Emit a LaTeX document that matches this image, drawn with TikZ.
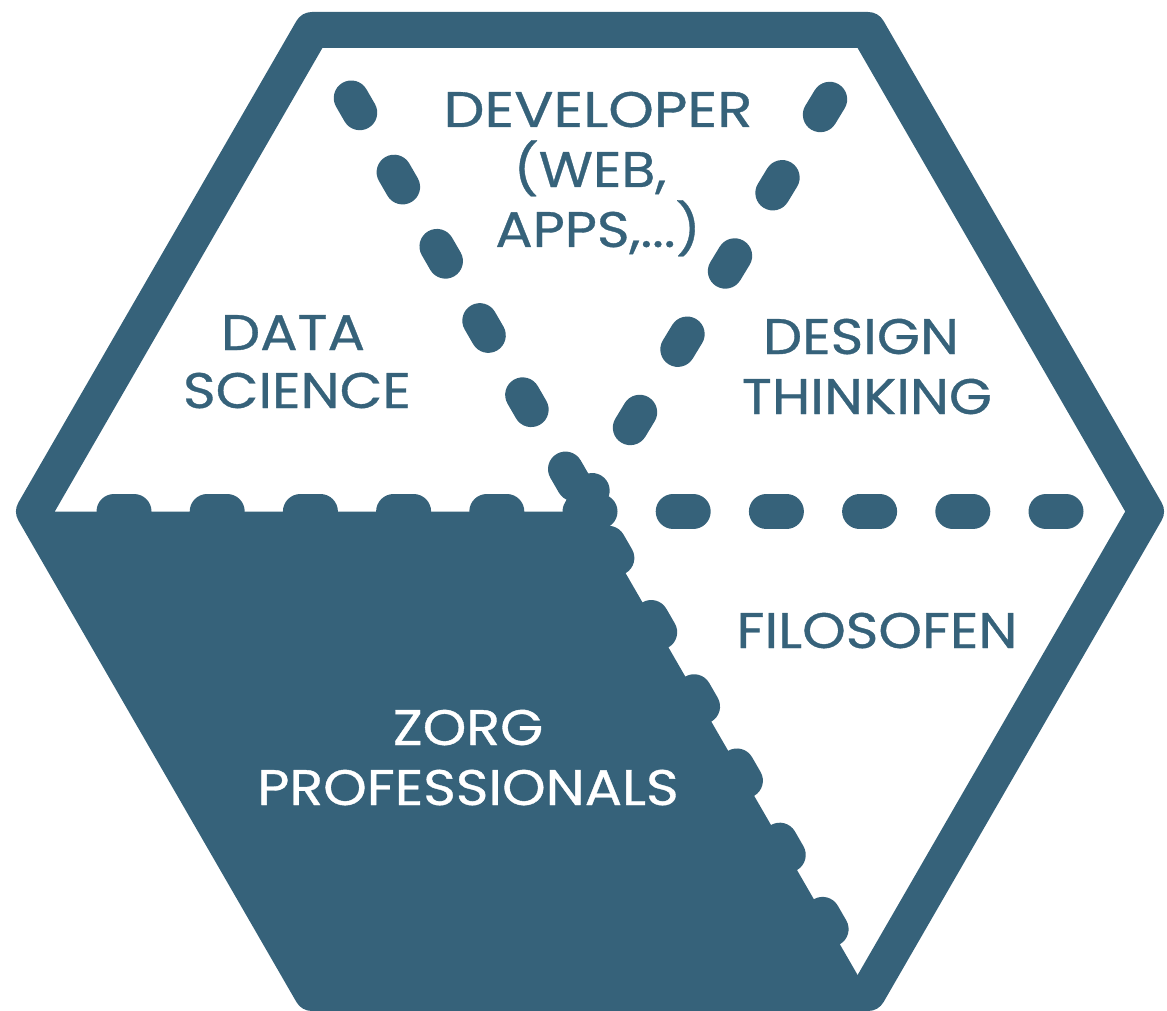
\documentclass[tikz,border=0pt]{standalone}
\usepackage{fontspec}
\setmainfont{Poppins}
\newfontfamily\labfont{Poppins}[FakeStretch=1.11, FakeBold=0.7]
\newfontfamily\labfontwide{Poppins}[FakeStretch=1.16, FakeBold=0.7]
\definecolor{hexblue}{RGB}{54,98,122}
\tikzset{
  hexline/.style={draw=hexblue, line width=36pt, line join=round, line cap=round},
  dotseg/.style={draw=hexblue, line width=35pt, line cap=round},
  lab/.style={text=hexblue, font=\labfont\fontsize{50}{60}\selectfont, inner sep=0pt, anchor=base},
  labwide/.style={lab, font=\labfontwide\fontsize{50}{60}\selectfont},
  labw/.style={lab, text=white}
}
\begin{document}
\begin{tikzpicture}[x=1pt,y=-1pt]
\useasboundingbox (0,0) rectangle (1167,1011);
\coordinate (L)  at (34,511.5);
\coordinate (Rt) at (1146,511.5);
\coordinate (TL) at (312,30);
\coordinate (TR) at (868,30);
\coordinate (BL) at (312,993);
\coordinate (BR) at (868,993);
\coordinate (C)  at (590,511.5);
% filled lower-left region
\fill[hexblue] (L) -- (C) -- (BR) -- (BL) -- cycle;
% hexagon outline
\draw[hexline] (TL) -- (TR) -- (Rt) -- (BR) -- (BL) -- (L) -- cycle;
% dashed dividers, one capsule per dash
\coordinate (h1) at (114,511.5);
\foreach \k in {0,...,10} \draw[dotseg] (h1) ++(0:{\k*93.2}) -- ++(0:20);
\coordinate (d1) at (351.25,97.98);
\foreach \k in {0,...,11} \draw[dotseg] (d1) ++(60:{\k*85.7}) -- ++(60:17);
\coordinate (e1) at (829.67,99.3);
\foreach \k in {0,...,5} \draw[dotseg] (e1) ++(121.26:{\k*91.54}) -- ++(121.26:18);
% labels
\node[labwide] (dev1) at (598,127) {DEVELOPER};
\node[lab] (dev2) at (590,187) {(WEB,};
\node[lab] (dev3) at (598,247) {APPS,...)};
\node[lab] (ds1) at (293,350) {DATA};
\node[lab] (ds2) at (297,408) {SCIENCE};
\node[lab] (dt1) at (861,354) {DESIGN};
\node[lab] (dt2) at (867,414) {THINKING};
\node[lab] (fil) at (877,648) {FILOSOFEN};
\node[labw] (zp1) at (468,745) {ZORG};
\node[labw] (zp2) at (468,805) {PROFESSIONALS};
\end{tikzpicture}
\end{document}
